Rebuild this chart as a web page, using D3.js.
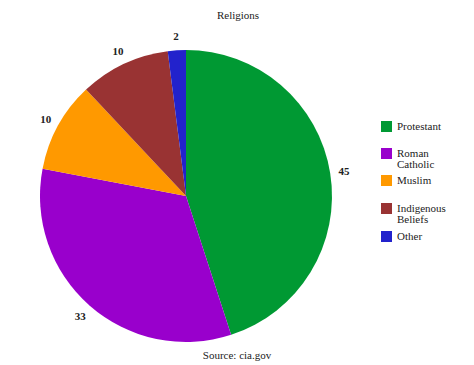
<!DOCTYPE html>
<html><head><meta charset="utf-8">
<script src="https://cdn.jsdelivr.net/npm/d3@7"></script>
<style>body{margin:0;background:#fff} svg, svg text{font-family:'Liberation Serif','Times New Roman',serif !important}</style>
</head><body>
<svg id="c" width="474" height="365"></svg>
<script>
const categories = ["Protestant", "Roman Catholic", "Muslim", "Indigenous Beliefs", "Other"];
const legendLines = [["Protestant"], ["Roman", "Catholic"], ["Muslim"], ["Indigenous", "Beliefs"], ["Other"]];
const values = [45, 33, 10, 10, 2];
const colors = ["#009933", "#9900cc", "#ff9900", "#993333", "#2222cc"];

const FONT = "'Liberation Serif', 'Times New Roman', serif";
const svg = d3.select("#c");
const cx = 186, cy = 196, r = 146;
const color = d3.scaleOrdinal().domain(categories).range(colors);
const pie = d3.pie().sort(null).value(d => d.v);
const data = pie(categories.map((c, i) => ({c, v: values[i]})));
const arc = d3.arc().innerRadius(0).outerRadius(r);
const labelArc = d3.arc().innerRadius(160).outerRadius(160);

const g = svg.append("g").attr("transform", `translate(${cx},${cy})`);
g.selectAll("path").data(data).join("path")
  .attr("d", arc).attr("fill", d => color(d.data.c));
g.selectAll("text").data(data).join("text")
  .attr("transform", d => `translate(${labelArc.centroid(d)})`)
  .attr("text-anchor", "middle").attr("dy", "0.35em")
  .style("font-family", FONT)
  .attr("font-size", 11).attr("font-weight", "bold").attr("fill", "#222")
  .text(d => d.data.v);

svg.append("text").attr("x", 238).attr("y", 19).attr("text-anchor", "middle")
  .style("font-family", FONT)
  .attr("font-size", 11).attr("fill", "#222").text("Religions");
svg.append("text").attr("x", 237).attr("y", 359).attr("text-anchor", "middle")
  .style("font-family", FONT)
  .attr("font-size", 11).attr("fill", "#222").text("Source: cia.gov");

const legY = [121, 148, 175, 203, 231];
const lg = svg.append("g");
categories.forEach((c, i) => {
  lg.append("rect").attr("x", 381).attr("y", legY[i]).attr("width", 11).attr("height", 11)
    .attr("fill", color(c));
  const t = lg.append("text").attr("x", 397).attr("y", legY[i] + 9)
    .style("font-family", FONT)
    .attr("font-size", 11).attr("fill", "#222");
  legendLines[i].forEach((l, j) => {
    t.append("tspan").attr("x", 397).attr("dy", j === 0 ? 0 : 11).text(l);
  });
});
</script>
</body></html>
